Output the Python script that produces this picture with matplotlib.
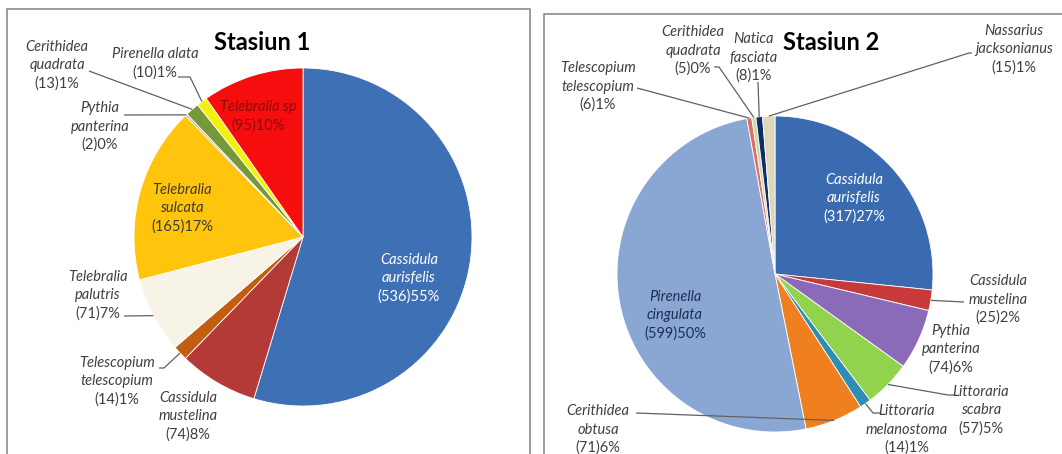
import matplotlib
matplotlib.use("Agg")
import matplotlib.pyplot as plt
import numpy as np
from matplotlib.patches import Rectangle

# ---------------- data ----------------
s1_title = "Stasiun 1"
s1_species = ["Cassidula\naurisfelis", "Cassidula\nmustelina", "Telescopium\ntelescopium",
              "Telebralia\npalutris", "Telebralia\nsulcata", "Pythia\npanterina",
              "Cerithidea\nquadrata", "Pirenella alata", "Telebralia sp"]
s1_counts = [536, 74, 14, 71, 165, 2, 13, 10, 95]
s1_colors = ["#3E70B6", "#B43A38", "#C35E10", "#F7F4E7", "#FFC40C", "#B9B49C",
             "#76973A", "#F4F20A", "#F60D0D"]

s2_title = "Stasiun 2"
s2_species = ["Cassidula\naurisfelis", "Cassidula\nmustelina", "Pythia\npanterina",
              "Littoraria\nscabra", "Littoraria\nmelanostoma", "Cerithidea\nobtusa",
              "Pirenella\ncingulata", "Telescopium\ntelescopium", "Cerithidea\nquadrata",
              "Natica\nfasciata", "Nassarius\njacksonianus"]
s2_counts = [317, 25, 74, 57, 14, 71, 599, 6, 5, 8, 15]
s2_colors = ["#3A6BB1", "#C8393A", "#8B6AB9", "#92D34E", "#2E8DB2", "#F0801F",
             "#8AA7D3", "#E06C6C", "#C9DCA2", "#102D6B", "#DDD8BA"]

# ---------------- layout ----------------
W, H = 1062, 454
fig = plt.figure(figsize=(W / 100, H / 100), dpi=100)
ax = fig.add_axes([0, 0, 1, 1])

FONT = "Lato"
LS = 18.5          # line spacing in px
FS = 10.5
GRAY = "#404040"
LINE = "#606060"

def Y(y):  # top-origin px -> data y
    return H - y

# panel frames
ax.add_patch(Rectangle((7, Y(470)), 530 - 7, 470 - 9, fill=False, ec="#8C8C8C", lw=1.2))
ax.add_patch(Rectangle((544, Y(470)), 1100 - 544, 470 - 14, fill=False, ec="#8C8C8C", lw=1.2))

def draw_pie(center, radius, counts, colors):
    wedges, _ = ax.pie(counts, colors=colors, startangle=90, counterclock=False,
                       center=(center[0], Y(center[1])), radius=radius,
                       wedgeprops=dict(edgecolor="white", linewidth=0.6))
    pts = []
    for w in wedges:
        a = np.deg2rad((w.theta1 + w.theta2) / 2)
        pts.append((w.center[0] + w.r * np.cos(a), w.center[1] + w.r * np.sin(a)))
    return pts

def pct_text(counts):
    t = sum(counts)
    return ["(%d)%d%%" % (c, int(100 * c / t + 0.5)) for c in counts]

def put_label(x, ytop, name, cnt, color):
    lines = name.split("\n")
    for i, ln in enumerate(lines):
        ax.text(x, Y(ytop + i * LS), ln, style="italic", family=FONT, fontsize=FS,
                color=color, ha="center", va="center")
    ax.text(x, Y(ytop + len(lines) * LS), cnt, family=FONT, fontsize=FS,
            color=color, ha="center", va="center")

def leader(points_top, end):
    xs = [p[0] for p in points_top] + [end[0]]
    ys = [Y(p[1]) for p in points_top] + [end[1]]
    ax.plot(xs, ys, color=LINE, lw=0.9, solid_capstyle="butt")

# ---- pie 1 ----
p1 = draw_pie((303, 237), 169, s1_counts, s1_colors)
t1 = pct_text(s1_counts)
lab1 = [(409, 260, "white"), (188, 398, GRAY), (117, 363, GRAY), (98, 277, GRAY),
        (182, 190, "#3A3A3A"), (100, 108, GRAY), (57, 47, GRAY), (155, 54, GRAY),
        (258, 107, "#8A0A0A")]
for i, (x, y, c) in enumerate(lab1):
    put_label(x, y, s1_species[i], t1[i], c)
lead1 = {2: [(159, 368), (164, 368)], 3: [(124, 316)], 5: [(124, 115)],
         6: [(89, 71)], 7: [(178, 77), (190, 77)]}
for i, pts in lead1.items():
    leader(pts, p1[i])
ax.text(262, Y(42), s1_title, family=FONT, weight="bold", fontsize=17,
        ha="center", va="center", color="black")

# ---- pie 2 ----
p2 = draw_pie((775, 274), 158, s2_counts, s2_colors)
t2 = pct_text(s2_counts)
lab2 = [(854, 180, "white"), (998, 281, GRAY), (951, 331, GRAY), (981, 392, GRAY),
        (907, 411, GRAY), (598, 411, GRAY), (675, 297, "#1E2F55"), (598, 68, GRAY),
        (693, 32, GRAY), (754, 39, GRAY), (1014, 31, GRAY)]
for i, (x, y, c) in enumerate(lab2):
    put_label(x, y, s2_species[i], t2[i], c)
lead2 = {1: [(964, 302)], 3: [(955, 395), (948, 395)], 4: [(880, 413), (873, 413)],
         5: [(636, 413)], 7: [(637, 88)], 8: [(714, 67), (719, 67)],
         9: [(758, 82)], 10: [(972, 53), (969, 53)]}
for i, pts in lead2.items():
    leader(pts, p2[i])
ax.text(831, Y(43), s2_title, family=FONT, weight="bold", fontsize=17,
        ha="center", va="center", color="black")

ax.set_xlim(0, W)
ax.set_ylim(0, H)
ax.set_aspect("auto")
ax.axis("off")
fig.savefig("out.png", dpi=100)
